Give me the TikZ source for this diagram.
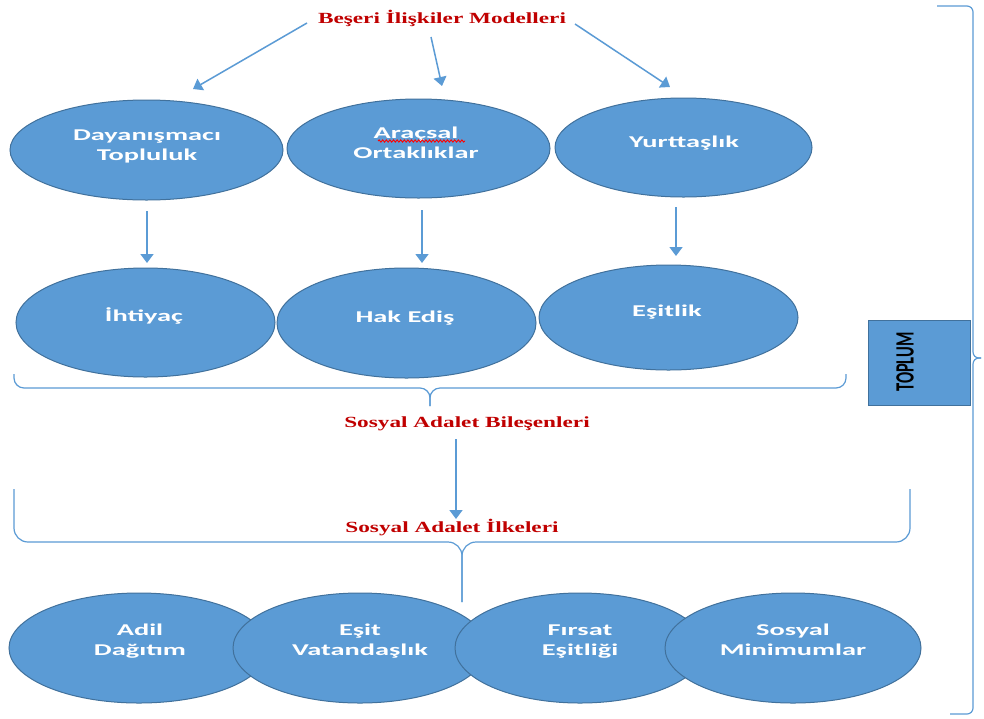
\documentclass[tikz,border=0pt]{standalone}
\usepackage{fontspec}
\usepackage{graphicx}
\usetikzlibrary{shapes.geometric,arrows.meta,decorations.pathmorphing}
\newfontfamily\wfont[FakeStretch=1.72]{Carlito}
\newfontfamily\rfont[FakeStretch=1.5]{Liberation Serif}
\newfontfamily\tpfont{Carlito}
\definecolor{ellfill}{HTML}{5B9BD5}
\definecolor{ellout}{HTML}{41719C}
\definecolor{lineblue}{HTML}{5B9BD5}
\definecolor{titlered}{HTML}{C00000}
\newcommand\lstr{\rule[-5pt]{0pt}{20pt}}
\tikzset{
  ell/.style={ellipse, draw=ellout, fill=ellfill, line width=1pt, inner sep=0pt},
  wtxt/.style={text=white, font=\wfont\bfseries\fontsize{16.5}{20.5}\selectfont, align=center, inner sep=0pt},
  rtxt/.style={text=titlered, font=\rfont\bfseries\fontsize{15.5}{18}\selectfont, inner sep=0pt, anchor=base},
  arr/.style={draw=lineblue, line width=1.5pt, -{Triangle[width=13pt,length=9pt]}},
  bracestyle/.style={draw=lineblue, line width=1.2pt},
}
\begin{document}
\begin{tikzpicture}[x=1pt,y=-1pt]
\fill[white] (0,0) rectangle (984,718);
\useasboundingbox (0,0) rectangle (984,718);

% titles
\node[rtxt] (title) at (442,23) {Beşeri İlişkiler Modelleri};
\node[rtxt] (sab) at (467,427) {Sosyal Adalet Bileşenleri};
\node[rtxt] (sai) at (452,532) {Sosyal Adalet İlkeleri};

% braces
\draw[bracestyle, rounded corners=10pt] (14,374) |- (430,388) -- (430,406);
\draw[bracestyle, rounded corners=10pt] (846,374) |- (430,388) -- (430,406);
\draw[bracestyle, rounded corners=14pt] (14,489) |- (462,542) -- (462,602);
\draw[bracestyle, rounded corners=14pt] (910,489) |- (462,542) -- (462,602);
\draw[bracestyle, rounded corners=6pt] (937,6) -| (973,358) -- (981,358);
\draw[bracestyle, rounded corners=6pt] (950,714) -| (973,358) -- (981,358);

% top row ellipses
\node[ell, minimum width=273pt, minimum height=100pt] (e1) at (146.5,150) {};
\node[ell, minimum width=263pt, minimum height=99pt] (e2) at (418.5,148.5) {};
\node[ell, minimum width=257pt, minimum height=99pt] (e3) at (683.5,147.5) {};
\node[wtxt, anchor=north] (t1) at (147,125) {\lstr Dayanışmacı\\Topluluk};
\node[wtxt, anchor=north] (t2) at (416,123) {\lstr Araçsal\\Ortaklıklar};
\node[wtxt, anchor=base] (t3) at (684,147) {Yurttaşlık};
\draw[red, line width=0.9pt, decorate, decoration={snake, amplitude=1.1pt, segment length=3.6pt}] (378,141) -- (465,141);

% second row ellipses
\node[ell, minimum width=259pt, minimum height=109pt] (e4) at (145.5,322.5) {};
\node[ell, minimum width=259pt, minimum height=110pt] (e5) at (406.5,323) {};
\node[ell, minimum width=259pt, minimum height=105pt] (e6) at (668.5,317.5) {};
\node[wtxt, anchor=base] (t4) at (144,321) {İhtiyaç};
\node[wtxt, anchor=base] (t5) at (405,322) {Hak Ediş};
\node[wtxt, anchor=base] (t6) at (667,316) {Eşitlik};

% bottom row ellipses
\node[ell, minimum width=260pt, minimum height=110pt] (b1) at (139,648) {};
\node[ell, minimum width=254pt, minimum height=110pt] (b2) at (360,648) {};
\node[ell, minimum width=250pt, minimum height=110pt] (b3) at (580,648) {};
\node[ell, minimum width=256pt, minimum height=110pt] (b4) at (793,648) {};
\node[wtxt, anchor=north] (u1) at (140,620) {\lstr Adil\\Dağıtım};
\node[wtxt, anchor=north] (u2) at (360,620) {\lstr Eşit\\Vatandaşlık};
\node[wtxt, anchor=north] (u3) at (580,620) {\lstr Fırsat\\Eşitliği};
\node[wtxt, anchor=north] (u4) at (793,620) {\lstr Sosyal\\Minimumlar};

% TOPLUM box
\node[draw=ellout, fill=ellfill, line width=1pt, minimum width=102pt, minimum height=85pt, inner sep=0pt] (box) at (919,362.5) {};
\node[rotate=90, inner sep=0pt, font=\tpfont\bfseries\fontsize{16.5}{20}\selectfont] (boxt) at (905,362) {\scalebox{1}[1.6]{TOPLUM}};

% arrow coordinates
\coordinate (a1s) at (307,23); \coordinate (a1e) at (193,89);
\coordinate (a2s) at (431,37); \coordinate (a2e) at (442,86);
\coordinate (a3s) at (575,24); \coordinate (a3e) at (670,87);
\coordinate (a4s) at (147,211); \coordinate (a4e) at (147,263);
\coordinate (a5s) at (422,210); \coordinate (a5e) at (422,263);
\coordinate (a6s) at (676,207); \coordinate (a6e) at (676,256);
\coordinate (a7s) at (456,439); \coordinate (a7e) at (456,519);
\draw[arr] (a1s) -- (a1e);
\draw[arr] (a2s) -- (a2e);
\draw[arr] (a3s) -- (a3e);
\draw[arr] (a4s) -- (a4e);
\draw[arr] (a5s) -- (a5e);
\draw[arr] (a6s) -- (a6e);
\draw[arr] (a7s) -- (a7e);
\end{tikzpicture}
\end{document}
